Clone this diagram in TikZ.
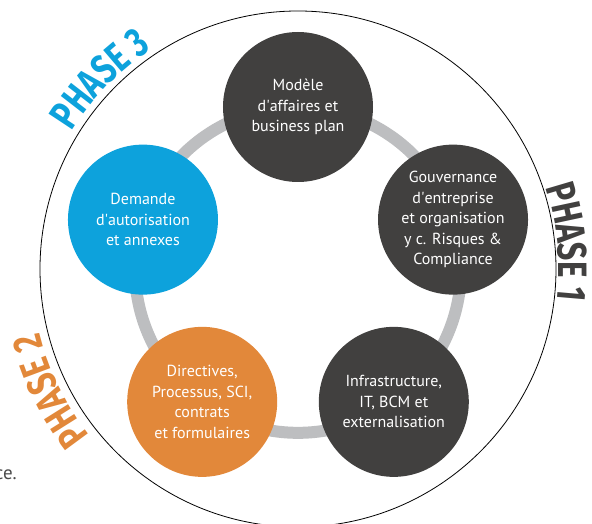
\documentclass[tikz,border=0pt]{standalone}
\usepackage{fontspec}
\setmainfont{PT Sans}
\newfontfamily\phasefont[FakeStretch=0.76]{Fira Sans}
\usetikzlibrary{decorations.text}

\definecolor{stepdark}{HTML}{41403F}
\definecolor{stepblue}{HTML}{0DA2DC}
\definecolor{steporange}{HTML}{E2883A}
\definecolor{ringgray}{HTML}{BDBEC0}
\definecolor{notegray}{HTML}{4A4A4A}

\pgfdeclarelayer{background}
\pgfsetlayers{background,main}

\tikzset{
  stepcircle/.style={circle, minimum size=150pt, inner sep=0pt, align=center,
    text=white, font=\fontsize{16}{20.5}\selectfont},
  ring/.style={line width=12pt, draw=ringgray},
  phaselabel/.style={decorate, decoration={text along path, text align=center,
    text color=#1}}
}

\begin{document}
\begin{tikzpicture}[x=1pt,y=1pt]
%Picture frame, origin at the centre of the wheel
\useasboundingbox (-298,-254) rectangle (294,270);

%Outer circle
\draw[line width=0.8pt] (0,1) circle (258);

%The five steps
\node[stepcircle, fill=stepdark] (modele) at (90:163) {Modèle\\d\textquotesingle affaires et\\business plan};
\node[stepcircle, fill=stepdark] (gouvernance) at (18:163) {Gouvernance\\d\textquotesingle entreprise\\et organisation\\y c. Risques \&\\Compliance};
\node[stepcircle, fill=stepdark] (infra) at (-54:163) {Infrastructure,\\IT, BCM et\\externalisation};
\node[stepcircle, fill=steporange] (directives) at (234:163) {Directives,\\Processus, SCI,\\contrats\\et formulaires};
\node[stepcircle, fill=stepblue] (demande) at (162:163) {Demande\\d\textquotesingle autorisation\\et annexes};

%Grey ring behind the steps
\begin{pgfonlayer}{background}
\foreach \a/\b in {modele/demande, demande/directives, directives/infra, infra/gouvernance, gouvernance/modele}
  \draw[ring] (\a.center) to[bend right=36, looseness=0.94] (\b.center);
\end{pgfonlayer}

%Phase labels along the outer circle
\path[phaselabel=stepblue, decoration={text={|\phasefont\bfseries\fontsize{41}{41}\selectfont|PHASE 3}}]
  (158:265) arc[start angle=158, end angle=114, radius=265];
\path[phaselabel=steporange, decoration={text={|\phasefont\bfseries\fontsize{41}{41}\selectfont|PHASE 2}}]
  (228:266) arc[start angle=228, end angle=184, radius=266];
\path[phaselabel=stepdark, decoration={text={|\phasefont\bfseries\fontsize{41}{41}\selectfont|PHASE 1}}]
  (28:261) arc[start angle=28, end angle=-16, radius=261];

%Cut-off note at the left edge
\node[anchor=base east, inner sep=0pt, text=notegray, font=\fontsize{19}{19}\selectfont] (note) at (-281,-210) {ce.};
\end{tikzpicture}
\end{document}
